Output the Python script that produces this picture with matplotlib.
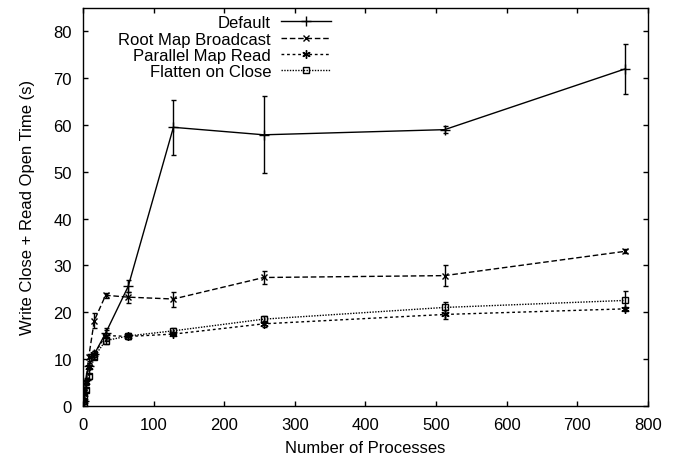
import numpy as np
import matplotlib
matplotlib.use('Agg')
import matplotlib.pyplot as plt
from matplotlib.lines import Line2D

plt.rcParams['font.family'] = ['Liberation Sans', 'DejaVu Sans']
plt.rcParams['font.size'] = 12

## process counts and timings (s)
procs = [1, 2, 4, 8, 16, 32, 64, 128, 256, 512, 768]

default_mean = [1.0, 3.0, 5.5, 8.5, 11.0, 15.5, 25.5, 59.5, 57.9, 59.0, 72.0]
default_err = [0.3, 0.4, 0.5, 0.6, 0.7, 1.0, 1.3, 5.9, 8.2, 0.7, 5.4]

root_mean = [1.0, 3.0, 5.0, 10.3, 18.2, 23.6, 23.2, 22.8, 27.4, 27.8, 33.0]
root_err = [0.3, 0.4, 0.5, 0.7, 1.7, 0.5, 1.2, 1.6, 1.3, 2.3, 0.4]

par_mean = [1.0, 2.5, 5.0, 8.3, 11.0, 15.0, 14.8, 15.3, 17.5, 19.5, 20.7]
par_err = [0.3, 0.3, 0.4, 0.5, 0.6, 1.1, 0.6, 0.5, 0.6, 1.0, 0.5]

flat_mean = [0.5, 2.0, 3.4, 6.3, 10.5, 13.9, 14.9, 16.0, 18.5, 21.0, 22.5]
flat_err = [0.2, 0.3, 0.4, 0.5, 0.6, 0.7, 0.6, 0.6, 0.6, 1.2, 2.0]

labels = ['Default', 'Root Map Broadcast', 'Parallel Map Read', 'Flatten on Close']

fig = plt.figure(figsize=(6.9, 4.6), dpi=100)
ax = fig.add_axes([0.1203, 0.1159, 0.8188, 0.8645])

styles = [
    dict(ls='-', marker='+', ms=7, mfc='black'),
    dict(ls=(0, (4, 2)), marker='x', ms=5, mfc='black'),
    dict(ls=(0, (2, 2)), marker=(6, 2, 0), ms=6, mfc='black'),
    dict(ls=(0, (1, 1)), marker='s', ms=5, mfc='none'),
]
series = [(default_mean, default_err), (root_mean, root_err),
          (par_mean, par_err), (flat_mean, flat_err)]

handles = []
for (m, e), st, lab in zip(series, styles, labels):
    ax.errorbar(procs, m, yerr=e, color='black', lw=1.0, capsize=1.8,
                elinewidth=1.0, capthick=1.0, mew=1.0, **st)
    handles.append(Line2D([], [], color='black', lw=1.0, mew=1.0, **st))

ax.set_xlim(0, 800)
ax.set_ylim(0, 85)
ax.set_xticks(np.arange(0, 801, 100))
ax.set_yticks(np.arange(0, 81, 10))
ax.tick_params(direction='in', top=True, right=True, length=3.6, width=1.0, pad=8)
for s in ax.spines.values():
    s.set_linewidth(1.0)

ax.set_xlabel('Number of Processes', labelpad=6)
ax.set_ylabel('Write Close + Read Open Time (s)', labelpad=13)

ax.legend(handles, labels, loc='upper right', bbox_to_anchor=(0.439, 0.982),
          markerfirst=False, frameon=False, numpoints=1, handlelength=3.0,
          labelspacing=0.08, handletextpad=0.6, borderpad=0, borderaxespad=0)

fig.savefig('out.png', dpi=100)
